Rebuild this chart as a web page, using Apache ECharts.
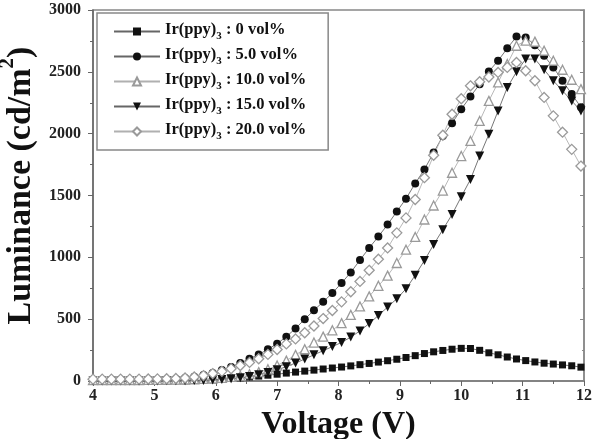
<!DOCTYPE html>
<html>
<head>
<meta charset="utf-8">
<title>Luminance vs Voltage</title>
<script src="https://cdn.jsdelivr.net/npm/echarts@6/dist/echarts.min.js"></script>
<style>
  html, body { margin: 0; padding: 0; background: #fff; }
  #chart { width: 593px; height: 439px; }
</style>
</head>
<body>
<div id="chart"></div>
<script>
// voltage (V)
var volt = [4.00,4.15,4.30,4.45,4.60,4.75,4.90,5.05,5.20,5.35,5.50,5.65,5.80,5.95,6.10,6.25,6.40,6.55,6.70,6.85,
  7.00,7.15,7.30,7.45,7.60,7.75,7.90,8.05,8.20,8.35,8.50,8.65,8.80,8.95,9.10,9.25,9.40,9.55,9.70,9.85,
  10.00,10.15,10.30,10.45,10.60,10.75,10.90,11.05,11.20,11.35,11.50,11.65,11.80,11.95];

// luminance (cd/m2) for each doping level
var lum0 = [0,0,0,0,0,0,0,1,1,2,2,4,6,9,14,20,26,33,40,47,
  55,64,72,80,88,97,105,113,122,132,142,153,164,176,190,205,222,236,247,257,
  264,263,248,228,212,194,178,165,154,144,137,130,123,112];
var lum5 = [3,3,4,4,5,6,7,9,12,16,24,35,48,65,88,114,145,180,215,256,
  302,358,425,500,572,640,711,792,878,978,1076,1168,1265,1370,1474,1598,1711,1847,1981,2084,
  2198,2300,2400,2503,2590,2690,2785,2778,2715,2630,2536,2428,2320,2214];
var lum10 = [8,8,8,8,8,8,9,9,10,11,12,14,17,21,26,33,42,55,72,95,
  125,165,211,257,311,359,410,468,535,603,684,770,852,954,1062,1165,1306,1419,1540,1684,
  1819,1941,2103,2265,2414,2563,2711,2752,2744,2671,2590,2517,2436,2360];
var lum15 = [0,0,0,0,0,0,1,1,2,2,3,4,5,8,12,18,26,36,50,68,
  90,116,145,178,212,245,278,312,355,405,465,530,598,665,745,855,975,1103,1224,1346,
  1490,1630,1819,1995,2184,2373,2500,2603,2603,2517,2428,2347,2265,2184];
var lum20 = [15,15,15,15,15,15,16,17,18,20,24,32,44,60,78,100,125,150,180,215,
  255,300,340,390,445,505,570,640,722,805,895,985,1076,1198,1319,1468,1644,1825,1987,2157,
  2282,2387,2420,2458,2495,2536,2576,2509,2428,2293,2144,2012,1873,1738];

var names = ['0', '5.0', '10.0', '15.0', '20.0'];

function pairs(ys) {
  return volt.map(function (v, i) { return [v, ys[i]]; });
}

var serif = '"Liberation Serif", "Times New Roman", serif';

function mk(label, ys, symbol, size, dark, hollow) {
  var c = dark ? '#111' : '#9a9a9a';
  return {
    name: label,
    type: 'line',
    data: pairs(ys),
    symbol: symbol,
    symbolSize: size,
    showSymbol: true,
    lineStyle: { color: dark ? '#666' : '#b0b0b0', width: 0.9 },
    itemStyle: hollow ? { color: '#fff', borderColor: c, borderWidth: 1.3 } : { color: c, borderColor: c, borderWidth: 0 },
    emphasis: { disabled: true },
    animation: false
  };
}

var labels = names.map(function (n) { return 'Ir(ppy)3 : ' + n + ' vol%'; });

var myChart = echarts.init(document.getElementById('chart'));
var option = {
  backgroundColor: '#fff',
  animation: false,
  grid: {
    left: 93, right: 9, top: 10, bottom: 58,
    outerBoundsMode: 'none',
    containLabel: false,
    show: true, borderColor: '#888', borderWidth: 1.5, backgroundColor: 'transparent'
  },
  legend: {
    data: labels,
    orient: 'vertical',
    left: 97, top: 13,
    itemWidth: 46, itemHeight: 10, itemGap: 4,
    padding: [8, 22, 8, 16],
    borderColor: '#888', borderWidth: 1.5,
    selectedMode: false,
    formatter: function (name) {
      var rest = name.replace('Ir(ppy)3', '');
      return '{a|Ir(ppy)}{s|3}{a|' + rest + '}';
    },
    textStyle: {
      rich: {
        a: { fontFamily: serif, fontWeight: 'bold', fontSize: 16.5, color: '#111', lineHeight: 16, verticalAlign: 'top' },
        s: { fontFamily: serif, fontWeight: 'bold', fontSize: 11, color: '#111', lineHeight: 21, verticalAlign: 'bottom' }
      }
    }
  },
  xAxis: [{
    type: 'value', min: 4, max: 12, interval: 1,
    name: 'Voltage (V)', nameLocation: 'middle', nameGap: 25,
    nameTextStyle: { fontFamily: serif, fontWeight: 'bold', fontSize: 32, color: '#111' },
    axisLine: { show: true, onZero: false, lineStyle: { color: '#666', width: 1.5 } },
    axisTick: { show: true, inside: false, length: 5, lineStyle: { color: '#666' } },
    minorTick: { show: true, splitNumber: 2, length: 3, lineStyle: { color: '#666' } },
    axisLabel: { fontFamily: serif, fontWeight: 'bold', fontSize: 16, color: '#222', margin: 7 },
    splitLine: { show: false }
  }, {
    type: 'value', min: 4, max: 12, interval: 1, position: 'top',
    axisLine: { show: true, lineStyle: { color: '#888', width: 1.5 } },
    axisTick: { show: false }, axisLabel: { show: false }, splitLine: { show: false }
  }],
  yAxis: [{
    type: 'value', min: 0, max: 3000, interval: 500,
    name: '{a|Luminance (cd/m}{s|2}{a|)}', nameLocation: 'middle', nameGap: 52,
    nameTextStyle: {
      padding: [0, 0, 0, 20],
      rich: {
        a: { fontFamily: serif, fontWeight: 'bold', fontSize: 34, color: '#111', lineHeight: 34, verticalAlign: 'bottom' },
        s: { fontFamily: serif, fontWeight: 'bold', fontSize: 21, color: '#111', lineHeight: 41, verticalAlign: 'top' }
      }
    },
    axisLine: { show: true, onZero: false, lineStyle: { color: '#666', width: 1.5 } },
    axisTick: { show: true, inside: false, length: 5, lineStyle: { color: '#666' } },
    minorTick: { show: true, splitNumber: 2, length: 3, lineStyle: { color: '#666' } },
    axisLabel: {
      fontFamily: serif, fontWeight: 'bold', fontSize: 16, color: '#222', margin: 12,
      formatter: function (v) { return String(v); }
    },
    splitLine: { show: false }
  }, {
    type: 'value', min: 0, max: 3000, interval: 500, position: 'right',
    axisLine: { show: true, lineStyle: { color: '#888', width: 1.5 } },
    axisTick: { show: true, inside: true, length: 4, lineStyle: { color: '#888' } },
    minorTick: { show: true, splitNumber: 2, length: 2, lineStyle: { color: '#888' } },
    axisLabel: { show: false }, splitLine: { show: false }
  }],
  series: [
    mk(labels[0], lum0, 'rect', 7, true, false),
    mk(labels[1], lum5, 'circle', 8, true, false),
    mk(labels[2], lum10, 'triangle', 9, false, true),
    mk(labels[3], lum15, 'path://M0,0 L10,0 L5,9 Z', 9, true, false),
    mk(labels[4], lum20, 'diamond', 10, false, true)
  ]
};
myChart.setOption(option);
</script>
</body>
</html>
